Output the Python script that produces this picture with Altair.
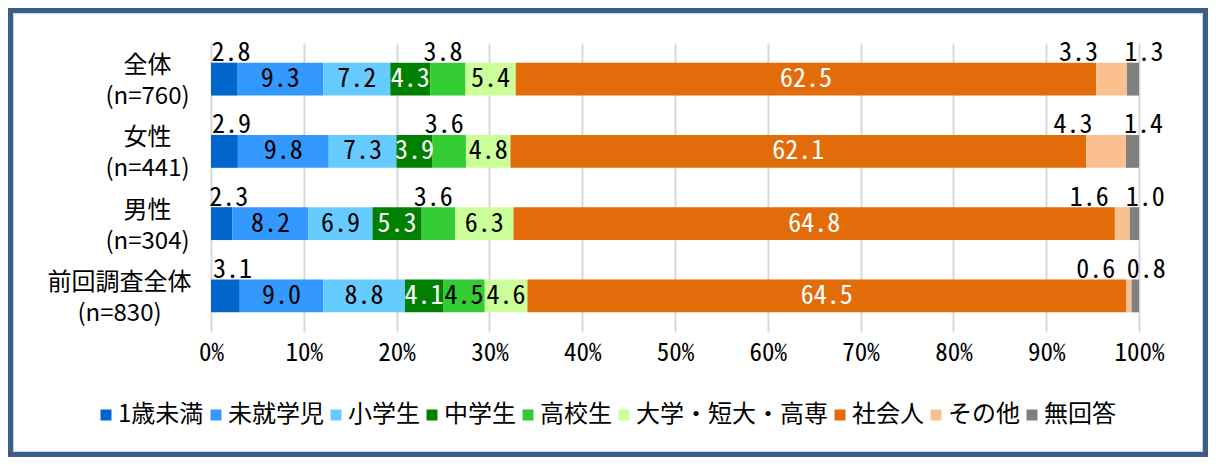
import altair as alt
import pandas as pd

# ---- data ----
groups = ["全体", "女性", "男性", "前回調査全体"]
ns = ["(n=760)", "(n=441)", "(n=304)", "(n=830)"]
categories = ["1歳未満", "未就学児", "小学生", "中学生", "高校生",
              "大学・短大・高専", "社会人", "その他", "無回答"]
colors = ["#0066CC", "#3399FF", "#66CCFF", "#008000", "#33CC33",
          "#CCFF99", "#E36C0A", "#FAC090", "#808080"]
values_all = [2.8, 9.3, 7.2, 4.3, 3.8, 5.4, 62.5, 3.3, 1.3]
values_female = [2.9, 9.8, 7.3, 3.9, 3.6, 4.8, 62.1, 4.3, 1.4]
values_male = [2.3, 8.2, 6.9, 5.3, 3.6, 6.3, 64.8, 1.6, 1.0]
values_prev = [3.1, 9.0, 8.8, 4.1, 4.5, 4.6, 64.5, 0.6, 0.8]
x_ticks = [0, 10, 20, 30, 40, 50, 60, 70, 80, 90, 100]

series = [values_all, values_female, values_male, values_prev]
row_labels = [f"{g}|{n}" for g, n in zip(groups, ns)]

rows = []
for lab, vals in zip(row_labels, series):
    for i, (c, v) in enumerate(zip(categories, vals)):
        rows.append({"label": lab, "category": c, "order": i, "value": v})
df = pd.DataFrame(rows)

NUM_FONT = "Noto Sans Mono CJK JP"
JP_FONT = "Noto Sans CJK JP"
BORDER = "#3B5E8B"

base = (
    alt.Chart(df)
    .transform_window(cum="sum(value)", groupby=["label"],
                      sort=[alt.SortField("order")], frame=[None, 0])
    .transform_joinaggregate(total="sum(value)", groupby=["label"])
    .transform_calculate(
        start="(datum.cum - datum.value) / datum.total * 100",
        end="datum.cum / datum.total * 100",
        mid="(datum.cum - datum.value / 2) / datum.total * 100",
        txt="format(datum.value, '.1f')",
        above="indexof(['1歳未満','その他','無回答'], datum.category) >= 0 || "
              "(datum.category === '高校生' && datum.value < 4)",
    )
)

y_enc = alt.Y(
    "label:N", sort=row_labels,
    scale=alt.Scale(paddingInner=0.545, paddingOuter=0.2725),
    axis=alt.Axis(
        title=None, domain=False, ticks=False, tickSize=0, grid=False,
        labelExpr="split(datum.value, '|')",
        labelAlign="center", labelBaseline="middle",
        labelFont=JP_FONT, labelFontSize=24, labelColor="black",
        labelLineHeight=31, labelOffset=-13, labelLimit=400,
        labelPadding={"condition": {"test": "indexof(datum.value, '前回') === 0",
                                    "value": 92}, "value": 64},
    ),
)

x_scale = alt.Scale(domain=[0, 100], nice=False)

bars = base.mark_bar().encode(
    x=alt.X("start:Q", scale=x_scale, axis=alt.Axis(
        title=None, values=x_ticks, labelExpr="datum.value + '%'",
        domain=False, ticks=False, tickSize=0, grid=True,
        gridColor="#D9D9D9", gridWidth=2,
        labelFont=NUM_FONT, labelFontSize=25, labelColor="black",
        labelPadding=8, labelFlush=False, labelOverlap=False)),
    x2="end:Q",
    y=y_enc,
    color=alt.Color("category:N", scale=alt.Scale(domain=categories, range=colors),
                    legend=alt.Legend(
                        title=None, orient="none", legendX=-117, legendY=360,
                        direction="horizontal", columns=9,
                        symbolType="square", symbolSize=121, symbolStrokeWidth=0,
                        symbolOpacity=1,
                        labelFont=JP_FONT, labelFontSize=24, labelColor="black",
                        labelOffset=0, columnPadding=0, labelLimit=400)),
)

inner = base.transform_filter("!datum.above").mark_text(
    baseline="middle", align="center", font=NUM_FONT, fontSize=26
).encode(
    x=alt.X("mid:Q", scale=x_scale),
    y=alt.Y("label:N", sort=row_labels),
    text="txt:N",
    color=alt.condition("datum.category === '中学生' || datum.category === '社会人'",
                        alt.value("white"), alt.value("black")),
)

above_dx = {"1歳未満": 7, "高校生": -5, "その他": -33, "無回答": 11}
above_layers = []
for cat, d in above_dx.items():
    above_layers.append(
        base.transform_filter(f"datum.above && datum.category === '{cat}'")
        .mark_text(baseline="alphabetic", align="center", dy=-18, dx=d,
                   font=NUM_FONT, fontSize=26, color="black")
        .encode(x=alt.X("mid:Q", scale=x_scale),
                y=alt.Y("label:N", sort=row_labels),
                text="txt:N")
    )

frame_df = pd.DataFrame({"k": [0]})
frame = alt.Chart(frame_df).mark_rect(
    fill="white", fillOpacity=0, stroke=BORDER, strokeWidth=5
).encode(x=alt.value(-200.5), x2=alt.value(994.5),
         y=alt.value(-32.5), y2=alt.value(411.5))
frame_inner = alt.Chart(frame_df).mark_rect(
    fill="white", fillOpacity=0, stroke="#C8D4E3", strokeWidth=1
).encode(x=alt.value(-197.5), x2=alt.value(991.5),
         y=alt.value(-29.5), y2=alt.value(408.5))

chart = alt.layer(frame, frame_inner, bars, inner, *above_layers).properties(
    width=928, height=289,
    autosize=alt.AutoSizeParams(type="none"),
    padding={"left": 203, "top": 35, "right": 69, "bottom": 125},
).configure_view(stroke=None)

chart.save("out.html", embed_options={"renderer": "svg", "actions": False})
